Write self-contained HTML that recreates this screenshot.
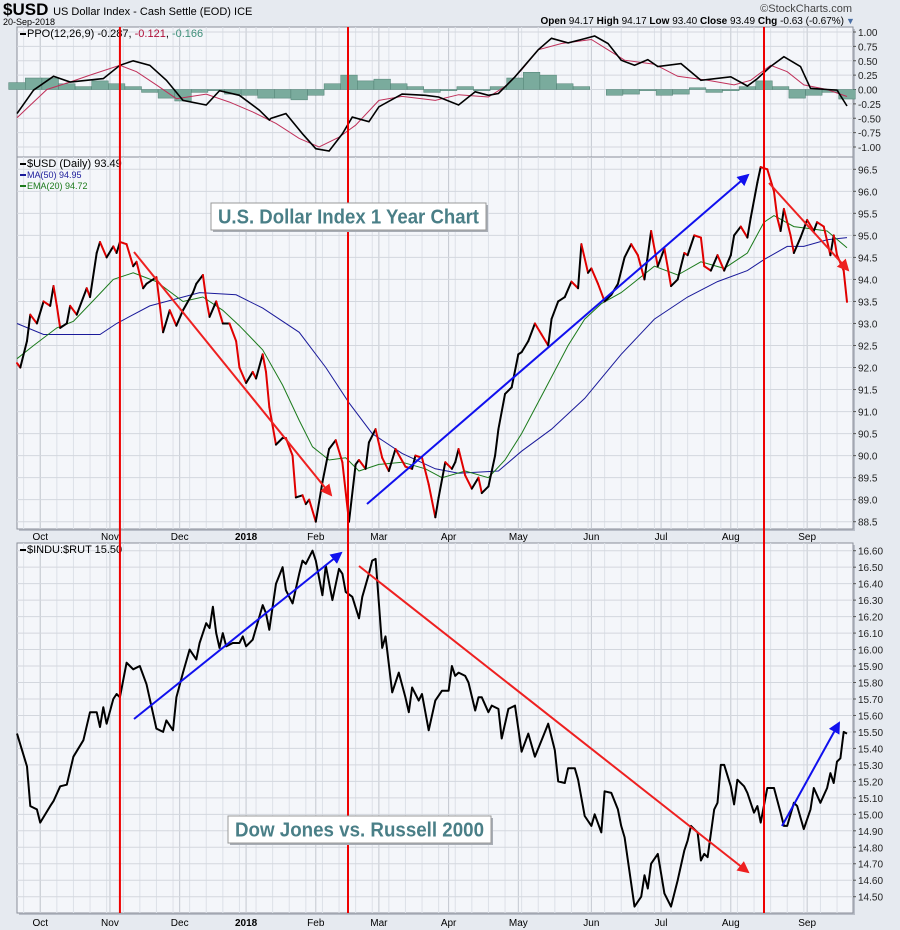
<!DOCTYPE html>
<html><head><meta charset="utf-8"><style>
body{margin:0;background:#e6eaf0;font-family:"Liberation Sans",sans-serif}
svg{display:block}
</style></head><body>
<svg id="c" width="900" height="930" xmlns="http://www.w3.org/2000/svg">
<rect x="0" y="0" width="900" height="930" fill="#e6eaf0"/>
<text x="3" y="15" font-size="17" font-weight="bold">$USD <tspan font-size="11" font-weight="normal">US Dollar Index - Cash Settle (EOD) ICE</tspan></text>
<text x="3" y="25" font-size="9">20-Sep-2018</text>
<text x="852" y="12" font-size="11" fill="#444" text-anchor="end">©StockCharts.com</text>
<text x="844" y="24" font-size="10" text-anchor="end"><tspan font-weight="bold">Open</tspan> 94.17 <tspan font-weight="bold">High</tspan> 94.17 <tspan font-weight="bold">Low</tspan> 93.40 <tspan font-weight="bold">Close</tspan> 93.49 <tspan font-weight="bold">Chg</tspan> -0.63 (-0.67%)</text>
<text x="846" y="24" font-size="9" fill="#4a6fa5">▼</text>
<g id="g"></g>
</svg>
<script>
// ---- data ----
const monthLabels=["Oct","Nov","Dec","2018","Feb","Mar","Apr","May","Jun","Jul","Aug","Sep"];
const monthDays=[7,28,49,69,90,109,130,151,173,194,215,238];
const markerDays=[31,99.7,225];
const ppoTicks=[1,0.75,0.5,0.25,0,-0.25,-0.5,-0.75,-1];
const priceTicks=[96.5,96,95.5,95,94.5,94,93.5,93,92.5,92,91.5,91,90.5,90,89.5,89,88.5];
const ratioTicks=[16.6,16.5,16.4,16.3,16.2,16.1,16.0,15.9,15.8,15.7,15.6,15.5,15.4,15.3,15.2,15.1,15.0,14.9,14.8,14.7,14.6,14.5];
const priceDays=[0,1,3,4,6,8,10,11,12,13,15,16,18,21,22,24,25,27,29,30,31,33,35,36,38,39,42,44,46,48,50,53,54,56,57,58,60,62,64,66,67,69,71,72,74,75,76,78,80,81,83,84,86,87,88,90,92,94,96,98,100,102,103,105,106,108,110,112,114,117,119,120,122,124,126,127,129,131,132,133,135,137,139,140,142,144,145,147,149,151,152,154,156,158,160,161,163,165,167,169,170,172,173,175,177,179,181,183,185,187,189,191,193,195,197,199,201,202,204,206,207,209,211,213,215,216,218,220,221,223,224,226,228,229,230,231,233,234,236,238,240,241,243,245,246,247,249,250];
const priceVals=[92.1,92.0,92.6,93.2,93.0,93.5,93.4,93.85,93.4,92.9,93.0,93.4,93.2,93.8,93.6,94.6,94.85,94.5,94.75,94.6,94.85,94.8,94.3,94.4,93.8,93.9,94.05,92.8,93.3,92.95,93.3,93.7,93.9,94.1,93.55,93.15,93.5,93.0,93.0,92.6,92.0,91.65,91.9,91.75,92.3,91.9,91.1,90.25,90.4,90.4,90.0,89.05,89.1,88.9,89.0,88.5,89.4,90.15,90.35,89.85,88.5,89.8,89.9,89.7,90.3,90.6,89.95,89.65,90.15,89.75,89.7,90.0,89.95,89.35,88.6,89.05,89.85,89.7,89.85,90.15,89.55,89.25,89.5,89.15,89.3,90.0,90.6,91.4,91.55,92.3,92.35,92.6,93.0,92.75,92.5,93.1,93.5,93.6,93.95,93.8,94.8,94.15,94.25,93.9,93.5,93.65,93.9,94.5,94.8,94.55,94.0,95.1,94.3,94.7,93.85,94.0,94.6,94.55,95.0,94.95,94.3,94.2,94.55,94.2,94.55,95.0,95.2,94.95,95.4,96.2,96.55,96.5,96.0,95.4,95.1,95.6,95.0,94.6,94.95,95.35,95.1,95.3,95.2,94.55,95.0,94.55,94.2,93.49];
const maDays=[0,8,25,30,40,55,66,74,85,93,100,107,116,126,133,145,152,161,171,182,192,202,211,220,225,232,237,244,250];
const maVals=[93.0,92.75,92.75,93.0,93.4,93.7,93.65,93.35,92.8,92.0,91.2,90.5,90.05,89.7,89.6,89.65,90.1,90.6,91.3,92.3,93.1,93.6,93.95,94.2,94.45,94.75,94.75,94.9,94.95];
const emaDays=[0,5,12,17,24,29,35,42,50,56,62,67,74,80,85,89,94,99,103,109,116,123,128,135,142,147,152,159,166,171,176,182,187,192,199,206,213,220,225,228,234,239,244,250];
const emaVals=[92.2,92.5,92.9,93.05,93.6,94.0,94.15,93.95,93.5,93.6,93.3,92.95,92.4,91.6,90.8,90.2,89.9,89.95,89.65,89.8,89.85,89.7,89.5,89.65,89.5,89.9,90.5,91.5,92.5,93.1,93.45,93.7,94.0,94.3,94.1,94.4,94.25,94.6,95.3,95.45,95.2,95.15,95.1,94.72];
const ppoDays=[0,5,11,16,26,31,35,40,45,50,57,61,67,73,76,76.5,81,86,90,94,98,101,106,109,116,123,127,133,138,142,145,150,157,161,166,170,174,178,182,186,190,193,200,206,215,220,223,227,231,236,239,244,247,250];
const ppoVals=[-0.42,-0.01,0.23,0.13,0.19,0.42,0.5,0.42,0.16,-0.19,-0.27,-0.02,-0.1,-0.36,-0.53,-0.5,-0.42,-0.77,-1.03,-1.07,-0.77,-0.48,-0.56,-0.3,-0.08,-0.1,-0.13,-0.27,-0.04,-0.1,-0.07,0.22,0.69,0.89,0.81,0.87,0.93,0.8,0.51,0.42,0.52,0.4,0.45,0.16,0.22,0.06,0.19,0.4,0.57,0.4,0.02,0,-0.01,-0.287];
const sigDays=[0,9,16,22,31,36,42,48,57,64,71,78,85,91,97,102,109,116,126,133,142,147,152,157,164,173,178,183,192,199,208,216,221,227,232,237,244,250];
const sigVals=[-0.49,0,0.13,0.25,0.42,0.31,0.08,-0.16,-0.08,-0.22,-0.39,-0.59,-0.85,-1.0,-0.83,-0.62,-0.19,-0.12,-0.19,-0.09,-0.13,0.05,0.34,0.69,0.8,0.87,0.69,0.51,0.44,0.23,0.16,0.08,0.16,0.42,0.31,0.08,0,-0.121];
const histVals=[0.12,0.2,0.2,0.1,0.05,0.15,0.1,0.05,-0.05,-0.15,-0.2,-0.05,-0.02,-0.08,-0.1,-0.15,-0.15,-0.18,-0.1,0.1,0.25,0.15,0.18,0.1,0.05,-0.05,-0.02,0.05,-0.02,0.05,0.2,0.3,0.25,0.1,0.05,0.0,-0.1,-0.08,-0.02,-0.1,-0.08,0.03,-0.05,-0.02,0.05,0.15,0.05,-0.15,-0.1,-0.05,-0.166];
const ratioDays=[0,3,4,6,7,10,11,13,15,17,20,22,24,25,26,27,29,30,31,33,34,35,37,39,41,42,44,45,47,48,50,52,54,55,57,58,59,60,61,62,63,65,67,68,69,71,73,74,75,76,78,80,81,83,85,86,87,89,90,92,93,95,97,98,99,101,103,104,106,107,108,110,111,113,115,117,118,119,121,122,124,126,128,130,131,132,133,135,136,138,139,140,142,143,145,146,148,150,152,154,156,158,160,162,163,165,166,168,169,171,173,174,176,177,179,181,182,183,185,186,188,189,190,191,193,194,195,197,199,200,201,202,203,205,206,207,208,210,211,212,213,215,216,217,219,220,222,223,224,226,228,230,231,232,234,235,237,239,240,242,244,245,246,247,248,249,250];
const ratioVals=[15.49,15.29,15.05,15.03,14.95,15.05,15.08,15.17,15.18,15.35,15.45,15.62,15.62,15.53,15.65,15.55,15.70,15.73,15.71,15.92,15.90,15.88,15.90,15.79,15.61,15.52,15.50,15.57,15.51,15.71,15.86,16.00,15.94,16.04,16.16,16.13,16.26,16.10,16.01,16.10,16.02,16.04,16.04,16.08,16.02,16.06,16.20,16.27,16.22,16.12,16.40,16.50,16.36,16.28,16.46,16.54,16.52,16.60,16.54,16.33,16.51,16.30,16.49,16.46,16.35,16.32,16.19,16.32,16.46,16.54,16.55,16.01,16.08,15.74,15.86,15.71,15.62,15.77,15.69,15.73,15.51,15.69,15.75,15.75,15.90,15.84,15.86,15.84,15.80,15.63,15.71,15.71,15.62,15.66,15.64,15.46,15.64,15.66,15.38,15.49,15.35,15.45,15.55,15.39,15.20,15.19,15.28,15.28,15.21,14.99,14.93,15.00,14.89,15.14,15.13,15.03,14.93,14.86,14.58,14.44,14.50,14.63,14.55,14.70,14.76,14.64,14.52,14.44,14.60,14.69,14.78,14.84,14.93,14.89,14.72,14.76,14.74,15.03,15.07,15.30,15.30,15.17,15.06,15.21,15.17,15.13,15.01,15.05,14.95,15.16,15.16,15.01,14.93,14.93,15.07,15.05,14.91,15.03,15.16,15.07,15.16,15.25,15.19,15.32,15.34,15.50,15.49];

// ---- layout ----
const L=17,R=853,NS="http://www.w3.org/2000/svg";
const P1={t:27,b:157,max:1,min:-1,y1:32,y0:147};
const P2={t:157,b:529,max:96.5,min:88.5,y1:169.3,y0:521.7};
const P3={t:543,b:913,max:16.6,min:14.5,y1:550.7,y0:896.7};
const x=d=>L+d*(830/250);
const yf=P=>v=>P.y1+(P.max-v)/(P.max-P.min)*(P.y0-P.y1);
const y1=yf(P1),y2=yf(P2),y3=yf(P3);
const g=document.getElementById('g');
function el(tag,attrs,parent){const e=document.createElementNS(NS,tag);for(const k in attrs)e.setAttribute(k,attrs[k]);(parent||g).appendChild(e);return e;}
function pathOf(ds,vs,yfn){return ds.map((d,i)=>(i?'L':'M')+x(d).toFixed(1)+','+yfn(vs[i]).toFixed(1)).join('');}

function panel(P,ticks,yfn,name,dec){
  const grp=el('g',{});
  
  
  el('rect',{x:L+2,y:P.t+2,width:R-L,height:P.b-P.t,fill:'#b9bec8'},grp);
  el('rect',{x:L,y:P.t,width:R-L,height:P.b-P.t,fill:'#f4f6fa',stroke:'#8a8f99','stroke-width':1},grp);
  for(let d=2;d<=250;d+=5){const xx=x(d);el('line',{x1:xx,x2:xx,y1:P.t,y2:P.b,stroke:'#dde1e8','stroke-width':1},grp);}
  monthDays.forEach(d=>el('line',{x1:x(d),x2:x(d),y1:P.t,y2:P.b,stroke:'#c4c8d0','stroke-width':1},grp));
  ticks.forEach(v=>{const yy=yfn(v);
    el('line',{x1:L,x2:R,y1:yy,y2:yy,stroke:'#d3d7de','stroke-width':1},grp);
    el('line',{x1:R,x2:R+3,y1:yy,y2:yy,stroke:'#555'},grp);
    const t=el('text',{x:R+5,y:yy+4,'font-size':10,fill:'#222'},grp);
    
    
    t.textContent=v.toFixed(dec);});
  return grp;
}
const g1=panel(P1,ppoTicks,y1,'ppo-panel',2);
const g2=panel(P2,priceTicks,y2,'price-panel',1);
const g3=panel(P3,ratioTicks,y3,'ratio-panel',2);

function xLabels(yy,nm){monthLabels.forEach((m,i)=>{const t=el('text',{x:x(monthDays[i]),y:yy,'font-size':10,'text-anchor':'middle','font-weight':m==='2018'?'bold':'normal'});
  
  
  t.textContent=m;});}
xLabels(540,'x-axis-label-top');xLabels(926,'x-axis-label-bottom');

// PPO histogram
histVals.forEach((v,i)=>{const xx=x(i*5),y0=y1(0),yy=y1(v);
  const r=el('rect',{x:xx-8.3,y:Math.min(y0,yy),width:16.6,height:Math.abs(yy-y0),fill:'#7aab9d',stroke:'#4f7f72','stroke-width':0.5},g1);
  
  });
let p=el('path',{d:pathOf(sigDays,sigVals,y1),fill:'none',stroke:'#c0305a','stroke-width':1},g1);


p=el('path',{d:pathOf(ppoDays,ppoVals,y1),fill:'none',stroke:'#000','stroke-width':1.6},g1);



// Price MAs and price
p=el('path',{d:pathOf(maDays,maVals,y2),fill:'none',stroke:'#1a1a9a','stroke-width':1},g2);


p=el('path',{d:pathOf(emaDays,emaVals,y2),fill:'none',stroke:'#1b7a1b','stroke-width':1},g2);


for(let i=1;i<priceDays.length;i++){
  const s=el('line',{x1:x(priceDays[i-1]),y1:y2(priceVals[i-1]),x2:x(priceDays[i]),y2:y2(priceVals[i]),stroke:priceVals[i]<priceVals[i-1]?'#e00000':'#000','stroke-width':2,'stroke-linecap':'round'},g2);
  
  
}
// Ratio line
p=el('path',{d:pathOf(ratioDays,ratioVals,y3),fill:'none',stroke:'#000','stroke-width':2,'stroke-linejoin':'round'},g3);



// Legends
function legend(P,items,nm){items.forEach((it,i)=>{const yy=P.t+10+i*11;
  el('line',{x1:L+3,x2:L+9,y1:yy-3,y2:yy-3,stroke:it[1],'stroke-width':2});
  const t=el('text',{x:L+10,y:yy,'font-size':it[2]||10,fill:it[1]});
  
  
  t.innerHTML=it[0];});}
legend(P1,[['PPO(12,26,9) -0.287, <tspan fill="#b0103a">-0.121</tspan>, <tspan fill="#3f8f7a">-0.166</tspan>','#000',11]],'ppo-legend');
legend(P2,[['$USD (Daily) 93.49','#000',11],['MA(50) 94.95','#1a1a9a',9],['EMA(20) 94.72','#1b7a1b',9]],'price-legend');
legend(P3,[['$INDU:$RUT 15.50','#000',11]],'ratio-legend');

// Red vertical markers
markerDays.forEach(d=>{const l=el('line',{x1:x(d),x2:x(d),y1:P1.t,y2:P3.b,stroke:'#ee0000','stroke-width':2});
  
  });

// Arrows (annotations)
const defs=el('defs',{});
[['ar','#ee2020'],['ab','#1010ee']].forEach(([id,c])=>{const m=el('marker',{id,markerWidth:6,markerHeight:6,refX:5,refY:3,orient:'auto',markerUnits:'strokeWidth'},defs);el('path',{d:'M0,0L6,3L0,6z',fill:c},m);});
function arrow(a,b,c,d,col,id,nm){const l=el('line',{x1:a,y1:b,x2:c,y2:d,stroke:col,'stroke-width':2,'marker-end':'url(#'+id+')'});
  
  }
arrow(134,252,331,495,'#ee2020','ar','trend-arrow-down-1');
arrow(367,504,748,175,'#1010ee','ab','trend-arrow-up-1');
arrow(769,183,848,270,'#ee2020','ar','trend-arrow-down-2');
arrow(134,719,341,553,'#1010ee','ab','trend-arrow-up-2');
arrow(359,566,748,872,'#ee2020','ar','trend-arrow-down-3');
arrow(782,826,839,723,'#1010ee','ab','trend-arrow-up-3');

// Annotation boxes
function box(bx,by,w,h,txt,nm){
  el('rect',{x:bx+2,y:by+2,width:w,height:h,fill:'#a8adb5'});
  const r=el('rect',{x:bx,y:by,width:w,height:h,fill:'#fff',stroke:'#999'});
  
  
  const t=el('text',{x:bx+w/2,y:by+h/2+7,'font-size':20,'font-weight':'bold',fill:'#4a7f87','text-anchor':'middle',textLength:w-14,lengthAdjust:'spacingAndGlyphs'});
  
  
  t.textContent=txt;}
box(211,203,275,27,'U.S. Dollar Index 1 Year Chart','price-annotation');
box(228,816,263,27,'Dow Jones vs. Russell 2000','ratio-annotation');
</script>
</body></html>
